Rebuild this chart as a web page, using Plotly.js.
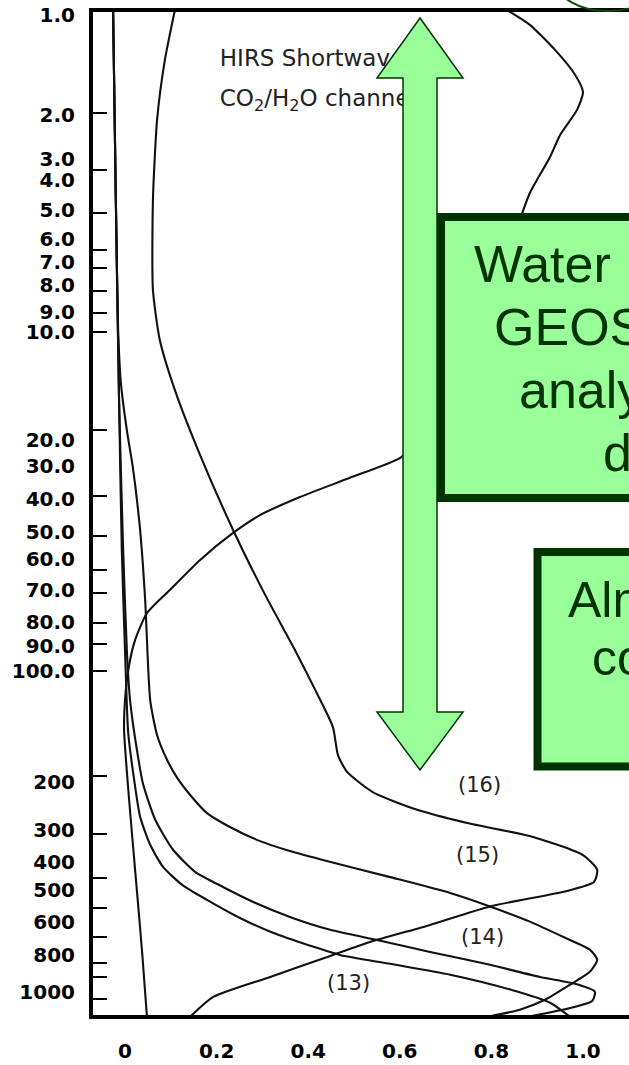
<!DOCTYPE html>
<html><head><meta charset="utf-8">
<script src="https://cdn.plot.ly/plotly-3.0.1.min.js"></script>
<style>html,body{margin:0;padding:0;background:#fff;overflow:hidden}#chart{width:629px;height:1065px}</style>
</head><body><div id="chart"></div>
<script>
// Vertical coordinate: log-pressure level index of the original (scanned) figure, 0 = 1 hPa at top.
// Horizontal: normalised weighting function.

// Y-axis tick labels (pressure, hPa) and the levels where the figure prints them
const yLabelText = ['1.0','2.0','3.0','4.0','5.0','6.0','7.0','8.0','9.0','10.0','20.0','30.0','40.0','50.0','60.0','70.0','80.0','90.0','100.0','200','300','400','500','600','800','1000'];
const yLabelLevel = [0.015,0.318,0.452,0.516,0.607,0.695,0.764,0.834,0.916,0.977,1.304,1.383,1.483,1.583,1.665,1.759,1.856,1.929,2.005,2.341,2.487,2.584,2.669,2.766,2.866,2.978];
// Levels of the tick marks drawn on the figure
const yTickLevel = [0.312,0.485,0.616,0.728,0.783,0.852,0.919,0.977,1.274,1.474,1.595,1.699,1.768,1.859,1.923,2.005,2.323,2.499,2.633,2.724,2.812,2.891,2.933,3.0];

const xTickVals = [0,0.2,0.4,0.6,0.8,1.0];
const xTickText = ['0','0.2','0.4','0.6','0.8','1.0'];

// Channel weighting functions (value, level)
const ch17W = [0.834,0.884,0.939,0.983,1.000,0.987,0.950,0.928,0.884,0.858,0.819,0.764,0.699,0.644,0.600,0.491,0.382,0.295,0.236,0.164,0.098,0.048,0.022,0.009,0.000,-0.002,0.009,0.024,0.037,0.048];
const ch17L = [0,0.045,0.121,0.197,0.249,0.303,0.379,0.446,0.555,0.652,0.804,0.986,1.183,1.304,1.359,1.419,1.477,1.532,1.586,1.668,1.759,1.829,1.911,1.987,2.093,2.184,2.396,2.639,2.851,3.054];

const ch16W = [0.109,0.087,0.070,0.061,0.061,0.076,0.109,0.164,0.236,0.306,0.371,0.421,0.454,0.465,0.485,0.541,0.638,0.747,0.891,1.000,1.031,1.024,0.965,0.797,0.666,0.535,0.448,0.317,0.192,0.142];
const ch16L = [0,0.152,0.334,0.576,0.849,1.001,1.153,1.350,1.577,1.774,1.941,2.078,2.175,2.260,2.311,2.372,2.426,2.466,2.508,2.563,2.608,2.645,2.672,2.719,2.775,2.827,2.869,2.933,2.994,3.054];

const ch15W = [-0.026,-0.020,-0.015,-0.009,0.004,0.017,0.033,0.044,0.055,0.070,0.092,0.114,0.146,0.179,0.229,0.288,0.360,0.432,0.579,0.710,0.797,0.884,0.961,1.015,1.031,1.015,0.972,0.917,0.862,0.790];
const ch15L = [0,0.576,0.971,1.131,1.274,1.386,1.577,1.789,2.093,2.199,2.275,2.329,2.387,2.436,2.478,2.517,2.551,2.578,2.630,2.678,2.719,2.765,2.814,2.850,2.881,2.917,2.956,3.002,3.032,3.054];

const ch14W = [-0.026,-0.020,-0.013,-0.004,0.004,0.011,0.026,0.039,0.066,0.105,0.153,0.214,0.284,0.360,0.448,0.550,0.666,0.797,0.906,0.989,1.026,1.020,0.972,0.878];
const ch14L = [0,0.576,1.183,1.638,1.941,2.093,2.244,2.345,2.456,2.547,2.614,2.660,2.708,2.751,2.790,2.821,2.857,2.896,2.933,2.956,2.978,3.006,3.027,3.054];

const ch13W = [-0.026,-0.020,-0.013,-0.007,0.000,0.007,0.020,0.033,0.055,0.083,0.127,0.179,0.251,0.323,0.404,0.469,0.579,0.710,0.841,0.928,0.972];
const ch13L = [0,0.576,1.183,1.638,1.941,2.193,2.335,2.447,2.532,2.599,2.656,2.699,2.754,2.799,2.838,2.866,2.893,2.926,2.971,3.011,3.054];

const chLabels = ['(16)','(15)','(14)','(13)'];
const chLabelW = [0.775,0.769,0.780,0.487];
const chLabelL = [2.351,2.563,2.812,2.951];

const titleLines = ['HIRS Shortwave', 'CO<sub>2</sub>/H<sub>2</sub>O channels'];
const titleW = [0.207, 0.207];
const titleL = [0.152, 0.273];

// ---- layout geometry (pixels) ----
const W = 629, H = 1065;
const mL = 93, mR = 0, mT = 12, mB = 50;
const plotW = W - mL - mR, plotH = H - mT - mB;
const px = x => (x - mL) / plotW;          // pixel -> paper x
const py = y => (H - mB - y) / plotH;      // pixel -> paper y

const lineStyle = {color: '#111', width: 2.1, shape: 'spline', smoothing: 0.6};
function curve(w, l) {
  return {x: w, y: l, mode: 'lines', type: 'scatter', line: lineStyle, hoverinfo: 'skip', showlegend: false, cliponaxis: true};
}
const traces = [curve(ch17W, ch17L), curve(ch16W, ch16L), curve(ch15W, ch15L), curve(ch14W, ch14L), curve(ch13W, ch13L),
  {x: titleW, y: titleL, text: titleLines, mode: 'text', type: 'scatter', textposition: 'middle right',
   textfont: {family: 'DejaVu Sans, sans-serif', size: 23, color: '#222'}, hoverinfo: 'skip', showlegend: false, cliponaxis: false},
  {x: [null], y: [null], yaxis: 'y2', type: 'scatter', mode: 'lines', showlegend: false, hoverinfo: 'skip'}];

const GREEN = '#99FF99', DARK = '#003300';
function pathFrom(pts) {
  return 'M' + pts.map(p => px(p[0]).toFixed(5) + ',' + py(p[1]).toFixed(5)).join(' L') + ' Z';
}
const arrowPts = [[420,18],[463,78],[437,78],[437,712],[463,712],[420,770],[377,712],[403,712],[403,78],[377,78]];

const shapes = [
  {type: 'path', xref: 'paper', yref: 'paper', path: pathFrom(arrowPts), fillcolor: GREEN, line: {color: DARK, width: 1.5}, layer: 'above'},
  {type: 'rect', xref: 'paper', yref: 'paper', x0: px(441), x1: px(760), y0: py(217), y1: py(498), fillcolor: GREEN, line: {color: DARK, width: 8}, layer: 'above'},
  {type: 'rect', xref: 'paper', yref: 'paper', x0: px(537.5), x1: px(760), y0: py(552), y1: py(766.5), fillcolor: GREEN, line: {color: DARK, width: 8}, layer: 'above'},
  {type: 'circle', xref: 'paper', yref: 'paper', x0: px(556), x1: px(660), y0: py(-50), y1: py(11), fillcolor: 'rgba(0,0,0,0)', line: {color: '#0a4a0a', width: 2}, layer: 'above'}
];

const boxFont = {family: 'Liberation Sans, Arial, sans-serif', size: 52, color: DARK};
function boxText(t, x, y, size) {
  return {text: t, xref: 'paper', yref: 'paper', x: px(x), y: py(y), xanchor: 'left', yanchor: 'middle', showarrow: false,
          font: Object.assign({}, boxFont, {size: size}), align: 'left'};
}
const annotations = [
  boxText('Water  vapor from', 472, 264, 52),
  boxText('GEOS-5 DAS', 492, 327, 52),
  boxText('analysis', 517, 390, 52),
  boxText('data', 601, 453, 52),
  boxText('Almost', 566, 600, 50),
  boxText('constant', 590, 658, 50)
];
chLabels.forEach((t, i) => annotations.push({text: t, xref: 'x', yref: 'y', x: chLabelW[i], y: chLabelL[i], showarrow: false,
  xanchor: 'center', yanchor: 'middle', font: {family: 'DejaVu Sans, sans-serif', size: 21, color: '#222'}}));

const yRange = [(H - mB - 10) / 329.7, (mT - 10) / 329.7];
const tickFont = {family: 'DejaVu Sans, sans-serif', size: 20, color: '#000', weight: 'bold'};

const layout = {
  width: W, height: H,
  margin: {l: mL, r: mR, t: mT, b: mB, pad: 0},
  paper_bgcolor: '#fff', plot_bgcolor: '#fff',
  showlegend: false,
  xaxis: {range: [(mL - 125) / 458, (W - mR - 125) / 458], showgrid: false, zeroline: false,
          showline: true, linewidth: 4, linecolor: '#000', mirror: true,
          tickmode: 'array', tickvals: xTickVals, ticktext: xTickText, ticks: '',
          tickfont: tickFont, ticklabelstandoff: 15},
  yaxis: {range: yRange, showgrid: false, zeroline: false, showline: true, linewidth: 4, linecolor: '#000',
          tickmode: 'array', tickvals: yTickLevel, ticks: 'inside', ticklen: 14, tickwidth: 2, tickcolor: '#000',
          showticklabels: false},
  yaxis2: {range: yRange, overlaying: 'y', side: 'left', showgrid: false, zeroline: false, showline: false,
           tickmode: 'array', tickvals: yLabelLevel, ticktext: yLabelText, ticks: '',
           tickfont: tickFont, ticklabelstandoff: 17},
  shapes: shapes,
  annotations: annotations
};

Plotly.newPlot('chart', traces, layout, {staticPlot: true, displayModeBar: false});
</script>
</body></html>
